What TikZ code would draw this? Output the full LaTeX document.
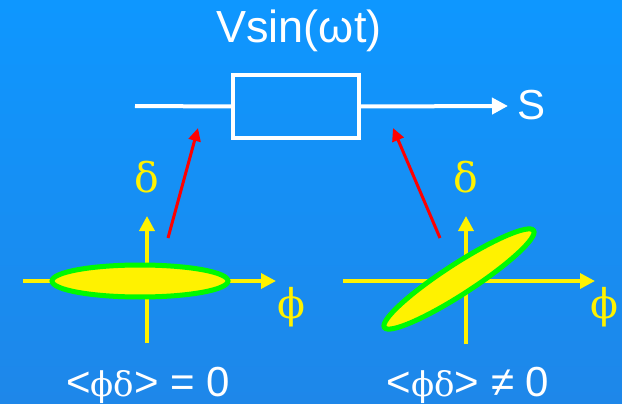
\documentclass[tikz,border=0pt]{standalone}
\usepackage{fontspec}
\setmainfont{Liberation Sans}
\newfontfamily\greekfont{DejaVu Serif}
\usetikzlibrary{arrows.meta}
\definecolor{skytop}{RGB}{14,151,255}
\definecolor{skybottom}{RGB}{30,135,233}
\definecolor{rimgreen}{RGB}{0,250,0}
\begin{document}
\begin{tikzpicture}[x=1pt,y=-1pt,
  wire/.style={white,line width=4pt},
  axis/.style={yellow,line width=3.5pt,-{Triangle[length=15pt,width=15pt]}},
  axislabel/.style={yellow,anchor=base,font=\fontsize{41}{41}\selectfont\greekfont},
  beam/.style={fill=yellow,draw=rimgreen,line width=5pt},
  kick/.style={red,line width=3pt,-{Triangle[length=13pt,width=12pt]}},
  caption/.style={white,anchor=base,font=\fontsize{42}{42}\selectfont}]
\clip (0,0) rectangle (622,404);
\shade[top color=skytop,bottom color=skybottom] (0,0) rectangle (622,404);
% Top: the kicker box
\node[caption] (volt) at (299,43) {\fontsize{45}{45}\selectfont Vsin(ωt)};
\node[draw=white,line width=4pt,minimum width=126pt,minimum height=63pt] (kicker) at (296,106.5) {};
\coordinate (feed) at (135,106);
\coordinate (exit) at (508,106);
\draw[wire] (feed) -- (kicker.west);
\draw[wire,-{Triangle[length=16pt,width=16pt]}] (kicker.east) -- (exit);
\node[caption] (sig) at (532,120) {S};
% Left: upright ellipse
\draw[axis] (23,281) -- (276,281);
\draw[axis] (147,343) -- (147,216);
\draw[beam] (140,281) ellipse [x radius=88,y radius=16];
\node[axislabel] (deltaL) at (147,192) {δ};
\node[axislabel] (phiL) at (291,318) {ϕ};
\node[caption] (corrL) at (148,396) {<{\fontsize{34}{34}\selectfont\greekfont ϕδ}> = 0};
% Right: tilted ellipse
\draw[axis] (343,281) -- (595,281);
\draw[axis] (466,344) -- (466,216);
\draw[beam,rotate around={33:(459,279)}] (459,279) ellipse [x radius=89,y radius=15];
\node[axislabel] (deltaR) at (466,192) {δ};
\node[axislabel,anchor=base east] (phiR) at (622,318) {ϕ};
\node[caption] (corrR) at (468,396) {<{\fontsize{34}{34}\selectfont\greekfont ϕδ}> ≠ 0};
% Red arrows from ellipses to the box
\coordinate (tailL) at (168,238);
\coordinate (tipL) at (198,128);
\coordinate (tailR) at (440,238);
\coordinate (tipR) at (393,128);
\draw[kick] (tailL) -- (tipL);
\draw[kick] (tailR) -- (tipR);
\end{tikzpicture}
\end{document}
